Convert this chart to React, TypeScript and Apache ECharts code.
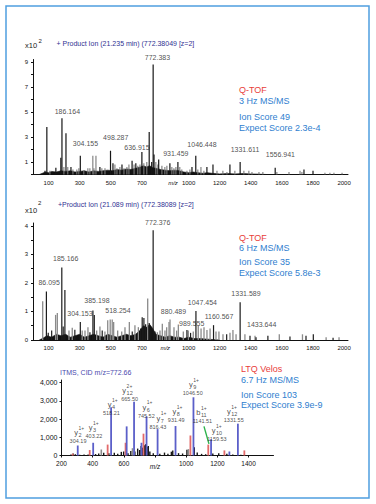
import React, { useEffect, useRef } from "react";
import * as echarts from "echarts";

const FONT = '"Liberation Sans", Arial, Helvetica, sans-serif';

// ---------------- Panel 1 (Q-TOF 3 Hz) : intensity x10^2 ----------------
const p1Black = [
  [77, 0.3], [89, 3.8], [147, 0.55], [179, 1.35], [186.16, 4.5], [212, 3.3], [244, 0.6],
  [304.16, 1.5], [430, 0.6], [498.29, 1.9], [514, 0.9], [572, 0.8], [636.92, 1.1], [661, 0.9],
  [700, 1.8], [747, 3.4], [763, 1.0], [772.38, 8.8], [778, 1.6], [808, 1.2], [880, 0.9],
  [931.46, 1.0], [1022, 0.6], [1046.45, 1.5], [1118, 0.6], [1157, 0.8], [1266, 0.8],
  [1331.61, 1.0], [1556.94, 0.55], [1742, 0.4], [1800, 0.3],
];
const p1Gray = [
  [109, 0.3], [199, 0.6], [224, 0.6], [257, 0.4], [282, 0.4], [295, 0.5], [327, 0.3], [353, 0.5],
  [366, 0.5], [385, 1.5], [392, 0.5], [405, 1.5], [443, 0.5], [463, 0.5], [527, 0.8], [540, 0.5],
  [559, 0.6], [585, 0.5], [604, 0.6], [617, 0.8], [650, 0.8], [674, 0.7], [688, 0.8], [713, 0.9],
  [732, 1.0], [790, 1.0], [803, 0.8], [829, 0.7], [848, 0.6], [861, 0.7], [893, 0.6], [906, 0.5],
  [919, 0.6], [944, 0.6], [957, 0.4], [990, 0.3], [1009, 0.4], [1060, 0.4], [1080, 0.6],
  [1099, 0.3], [1183, 0.3], [1221, 0.3], [1247, 0.2], [1298, 0.3], [1356, 0.3], [1388, 0.3],
  [1408, 0.2], [1453, 0.2], [1478, 0.2], [1568, 0.2], [1646, 0.2], [1717, 0.3], [1729, 0.2],
  [1877, 0.15], [1909, 0.15], [1935, 0.15], [1987, 0.15],
];
const p1Floor = [
  [40, 0], [60, 0.1], [80, 0.2], [100, 0.15], [120, 0.25], [150, 0.2], [180, 0.3], [210, 0.25],
  [240, 0.3], [270, 0.2], [300, 0.25], [330, 0.3], [360, 0.2], [390, 0.3], [420, 0.25], [450, 0.3],
  [480, 0.35], [510, 0.3], [540, 0.4], [570, 0.35], [600, 0.45], [630, 0.4], [660, 0.5], [690, 0.6],
  [710, 0.7], [730, 0.6], [750, 0.7], [770, 0.55], [790, 0.5], [820, 0.4], [850, 0.35], [880, 0.3],
  [910, 0.35], [940, 0.3], [970, 0.2], [1000, 0.15], [1030, 0.2], [1060, 0.15], [1090, 0.1],
  [1120, 0.15], [1150, 0.1], [1200, 0.05], [1250, 0.08], [1300, 0.05], [1350, 0.08], [1400, 0.05],
  [1450, 0.03], [1500, 0],
];
const p1LabelText = ["772.383", "186.164", "304.155", "498.287", "636.915", "931.459", "1046.448", "1331.611", "1556.941"];
const p1LabelMz = [800, 221, 337, 532, 668, 918, 1086, 1363, 1590];
const p1LabelInt = [9.34, 5.06, 2.5, 2.98, 2.16, 1.66, 2.38, 2.0, 1.58];
const p1YTicks = [0, 1, 2, 3, 4, 5, 6, 7, 8, 9];
const p1YLabels = [1, 3, 5, 7, 9];
const p1XLabels = [100, 300, 500, 700, 900, 1000, 1200, 1400, 1600, 1800, 2000];

// ---------------- Panel 2 (Q-TOF 6 Hz) : intensity x10^2 ----------------
const p2Black = [
  [86.1, 1.7], [98, 0.25], [120, 0.33], [185.17, 2.54], [194, 0.47], [205, 1.75], [269, 0.36],
  [304.15, 0.63], [366, 0.27], [385.2, 1.03], [394, 0.88], [445, 0.33], [638, 0.3], [692, 0.4],
  [702, 0.8], [713, 0.77], [724, 0.55], [747, 0.6], [758, 0.35], [772.38, 3.85], [784, 0.3],
  [989.56, 0.35], [1013, 0.25], [1047.45, 1.02], [1160.57, 0.52], [1245, 0.2], [1331.59, 1.32],
  [1395, 0.15], [1433.64, 0.1], [1510, 0.15], [1652, 0.12], [1755, 0.15], [1802, 0.2], [1929, 0.08],
];
const p2Gray = [
  [62, 1.36], [145, 0.88], [156, 0.95], [231, 0.33], [252, 0.43], [316, 0.33], [334, 0.33],
  [353, 0.45], [409, 0.33], [430, 0.47], [462, 0.3], [480, 0.69], [496, 0.72], [509, 0.72],
  [518.25, 0.63], [544, 0.33], [570, 0.3], [591, 0.45], [619, 0.63], [655, 0.52], [677, 0.45],
  [737, 1.45], [799, 0.27], [816, 0.33], [831, 0.57], [848, 0.33], [859, 0.45], [874, 0.63],
  [880.49, 0.72], [906, 0.45], [923, 0.33], [934, 0.54], [966, 0.3], [998, 0.33], [1030, 0.3],
  [1062, 0.5], [1080, 0.4], [1099, 0.45], [1118, 0.35], [1138, 0.4], [1176, 0.3], [1195, 0.3],
  [1221, 0.2], [1266, 0.25], [1285, 0.35], [1305, 0.2], [1362, 0.2], [1427, 0.15], [1583, 0.2],
  [1732, 0.2], [1884, 0.1], [1967, 0.1],
];
const p2Floor = [
  [40, 0], [60, 0.05], [90, 0.15], [120, 0.1], [150, 0.2], [180, 0.15], [210, 0.2], [240, 0.1],
  [270, 0.15], [300, 0.2], [330, 0.1], [360, 0.15], [390, 0.2], [420, 0.15], [450, 0.1], [480, 0.2],
  [510, 0.15], [540, 0.1], [570, 0.15], [600, 0.2], [630, 0.15], [660, 0.2], [690, 0.35], [710, 0.5],
  [730, 0.45], [750, 0.55], [770, 0.4], [790, 0.2], [820, 0.15], [850, 0.1], [880, 0.15], [910, 0.1],
  [940, 0.1], [970, 0.05], [1000, 0.1], [1040, 0.05], [1080, 0.05], [1120, 0.03], [1200, 0],
];
const p2LabelText = ["772.376", "185.166", "86.095", "385.198", "304.153", "518.254", "880.489", "989.555", "1047.454", "1160.567", "1331.589", "1433.644"];
const p2LabelMz = [802, 210, 104, 411, 302, 546, 903, 1020, 1089, 1196, 1369, 1470];
const p2LabelInt = [4.13, 2.84, 2.01, 1.37, 0.92, 1.05, 0.99, 0.59, 1.32, 0.84, 1.64, 0.56];
const p2YTicks = [0, 0.5, 1, 1.5, 2, 2.5, 3, 3.5, 4];
const p2YLabels = [0, 1, 2, 3, 4];
const p2XLabels = [100, 300, 500, 700, 850, 1000, 1200, 1400, 1600, 1800, 2000];

// ---------------- Panel 3 (LTQ Velos) ----------------
const p3Blue = [
  [304.19, 550], [403.22, 700], [518.21, 2650], [618, 1600], [665.5, 2950], [713, 700],
  [745.52, 2150], [816.43, 1450], [931.49, 1620], [1046.5, 3200], [1159.53, 900], [1277, 220],
  [1331.55, 1750],
];
const p3Red = [
  [272, 100], [381, 300], [496, 600], [611, 700], [726, 1200], [1027, 1100], [1141.51, 600],
  [1245, 280], [1373, 280],
];
const p3Gray = [[456, 330], [656, 400], [1015, 350]];
const p3Black = [
  [262, 60], [276, 110], [290, 70], [318, 40], [346, 60], [372, 50], [420, 80], [440, 110],
  [472, 150], [505, 120], [540, 150], [562, 90], [585, 200], [600, 220], [628, 130], [646, 250],
  [672, 220], [690, 380], [703, 300], [712, 520], [722, 430], [733, 560], [741, 620], [750, 480],
  [758, 520], [768, 220], [790, 130], [832, 90], [862, 160], [884, 100], [906, 210], [915, 280],
  [952, 130], [978, 110], [1006, 310], [1053, 460], [1072, 160], [1100, 90], [1126, 70],
  [1172, 110], [1210, 130], [1262, 90], [1300, 60], [1352, 40], [1386, 30],
];
const p3Leader = [[1114, 1600], [1146, 640]];
const ionType = ["y", "y", "y", "y", "y", "y", "y", "y", "b", "y", "y"];
const ionIndex = ["2", "3", "4", "12", "6", "7", "8", "9", "11", "10", "12"];
const ionCharge = ["1+", "1+", "1+", "2+", "1+", "1+", "1+", "1+", "1+", "1+", "1+"];
const ionMzText = ["304.19", "403.22", "518.21", "665.50", "745.52", "816.43", "931.49", "1046.50", "1141.51", "1159.53", "1331.55"];
const ionLabelMz = [306, 408, 520, 637, 744, 818, 936, 1042, 1104, 1197, 1305];
const ionLabelInt = [780, 1055, 2320, 3090, 2190, 1580, 1940, 3420, 1890, 890, 1940];
const p3YTicks = [0, 1000, 2000, 3000, 4000];
const p3XLabels = [200, 400, 600, 800, 1000, 1200, 1400];

// layout: horizontal shift (px) of each ion name relative to its m/z text
const ionNameDx = [0, -1.5, 0, -3.5, 0, 2.5, 0, 0, -2, -1.5, -3];

// ---------------- helpers ----------------
const bars = (i: number, data: number[][], color: string, w: number, z = 2) => ({
  type: "bar", xAxisIndex: i, yAxisIndex: i, data, barWidth: w, barGap: "-100%",
  itemStyle: { color }, silent: true, z,
});
const floor = (i: number, data: number[][]) => ({
  type: "line", xAxisIndex: i, yAxisIndex: i, data, symbol: "none", silent: true, z: 1,
  lineStyle: { width: 0.6, color: "#111" }, areaStyle: { color: "#111", opacity: 1 },
});
const labels = (i: number, mz: number[], it: number[], texts: string[], size: number, color: string,
  itemLabel?: (k: number) => any, base: any = {}) => ({
  type: "scatter", xAxisIndex: i, yAxisIndex: i, clip: false, silent: true, symbolSize: 1,
  itemStyle: { color: "rgba(0,0,0,0)" }, z: 10,
  data: mz.map((m, k) => ({ value: [m, it[k]], label: { formatter: texts[k], ...(itemLabel ? itemLabel(k) : {}) } })),
  label: { show: true, position: "inside", fontSize: size, color, fontFamily: FONT, align: "center", verticalAlign: "middle", ...base },
});
const txt = (x: number, y: number, text: string, size: number, color: string, extra: any = {}) => ({
  type: "text", x, y, silent: true, z: 20,
  style: { text, fill: color, fontSize: size, fontFamily: FONT, align: "left", verticalAlign: "middle", ...extra },
});

const axisLineStyle = { color: "#111", width: 1 };

function msXAxis(gi: number, customs: number[], mzAt: number) {
  return {
    type: "value", gridIndex: gi, min: 0, max: 2025,
    axisLine: { lineStyle: axisLineStyle }, axisTick: { show: false }, splitLine: { show: false },
    axisLabel: {
      customValues: customs, fontSize: 6, margin: 5, color: "#111", fontFamily: FONT,
      formatter: (v: number) => (v === mzAt ? "{i|m/z}" : String(v)),
      rich: { i: { fontStyle: "italic", fontSize: 6, fontFamily: FONT, color: "#111" } },
    },
  };
}
function yAxis(gi: number, max: number, ticks: number[], labs: number[], size: number, margin: number) {
  return {
    type: "value", gridIndex: gi, min: 0, max,
    axisLine: { show: true, lineStyle: axisLineStyle }, splitLine: { show: false },
    axisTick: { show: true, length: 2, customValues: ticks, lineStyle: axisLineStyle },
    axisLabel: { customValues: labs, fontSize: size, margin, color: "#111", fontFamily: FONT },
  };
}

function buildOption() {
  const NAVY = "#2f3192";
  const RED = "#e8403a";
  const BLUE = "#2f80cf";
  return {
    animation: false,
    backgroundColor: "#ffffff",
    grid: [
      { left: 33, top: 59.5, width: 315, height: 115 },
      { left: 33, top: 223, width: 315, height: 117 },
      { left: 61.5, top: 380, width: 212, height: 75.5 },
    ],
    xAxis: [
      msXAxis(0, p1XLabels, 900),
      msXAxis(1, p2XLabels, 850),
      {
        type: "value", gridIndex: 2, min: 200, max: 1560,
        axisLine: { lineStyle: axisLineStyle }, splitLine: { show: false },
        axisTick: { show: true, length: 2, customValues: [200, 400, 600, 800, 1000, 1200, 1400], lineStyle: axisLineStyle },
        axisLabel: {
          customValues: p3XLabels, fontSize: 6.5, margin: 4, color: "#111", fontFamily: FONT,
          formatter: (v: number) => (v === 800 ? "{i|m/z}" : String(v)),
          rich: { i: { fontStyle: "italic", fontSize: 6.5, fontFamily: FONT, color: "#111", padding: [3, 0, 0, 0] } },
        },
      },
    ],
    yAxis: [
      yAxis(0, 9.2, p1YTicks, p1YLabels, 6, 5),
      yAxis(1, 4.1, p2YTicks, p2YLabels, 6, 5),
      yAxis(2, 4150, p3YTicks, p3YTicks, 7, 4),
    ],
    series: [
      floor(0, p1Floor),
      bars(0, p1Gray, "#7a7a7a", 1.1),
      bars(0, p1Black, "#161616", 1.2, 3),
      labels(0, p1LabelMz, p1LabelInt, p1LabelText, 7, "#222"),

      floor(1, p2Floor),
      bars(1, p2Gray, "#8a8a8a", 1.3),
      bars(1, p2Black, "#1c1c1c", 1.2, 3),
      labels(1, p2LabelMz, p2LabelInt, p2LabelText, 7, "#222"),

      bars(2, p3Black, "#141414", 1.4),
      bars(2, p3Gray, "#8c8c8c", 1.6),
      bars(2, p3Red, "#e36a6a", 1.8, 3),
      bars(2, p3Blue, "#5b5fc9", 1.8, 4),
      {
        type: "line", xAxisIndex: 2, yAxisIndex: 2, data: p3Leader, symbol: "none", silent: true, z: 5,
        lineStyle: { color: "#2db34c", width: 1.4 },
      },
      labels(2, ionLabelMz, ionLabelInt, ionMzText, 5.5, "#222"),
      labels(2, ionLabelMz, ionLabelInt, ionType, 7.5, "#222",
        (k) => ({ offset: [ionNameDx[k], -8.5] }), { align: "right" }),
      labels(2, ionLabelMz, ionLabelInt, ionIndex, 5.5, "#222",
        (k) => ({ offset: [ionNameDx[k] + 0.5, -6] }), { align: "left" }),
      labels(2, ionLabelMz, ionLabelInt, ionCharge, 5, "#222",
        (k) => ({ offset: [ionNameDx[k] + 0.5, -13.5] }), { align: "left" }),
    ],
    graphic: [
      { type: "rect", silent: true, z: 0, shape: { x: 6, y: 6, width: 363, height: 492 },
        style: { fill: "none", stroke: "#4f9fe0", lineWidth: 1.5 } },
      // panel 1 header
      txt(25, 45, "x10", 7.5, "#222"),
      txt(38.5, 40.5, "2", 6, "#222"),
      txt(56.5, 43.5, "+ Product Ion (21.235 min) (772.38049 [z=2]", 7, NAVY),
      txt(239, 90, "Q-TOF", 9, RED),
      txt(239, 100.5, "3 Hz MS/MS", 9, BLUE),
      txt(239, 117, "Ion Score 49", 9, BLUE),
      txt(239, 127.5, "Expect Score 2.3e-4", 9, BLUE),
      // panel 2 header
      txt(25, 210, "x10", 7.5, "#222"),
      txt(38, 203, "2", 6, "#222"),
      txt(58, 204, "+Product Ion (21.089 min) (772.38089 [z=2]", 7, NAVY),
      txt(239, 237.7, "Q-TOF", 9, RED),
      txt(239, 248.3, "6 Hz MS/MS", 9, BLUE),
      txt(239, 261.7, "Ion Score 35", 9, BLUE),
      txt(239, 273.3, "Expect Score 5.8e-3", 9, BLUE),
      // panel 3 header
      txt(60, 372, "ITMS, CID m/z=772.66", 7, "#4a4aae"),
      txt(241, 369.3, "LTQ Velos", 9, RED),
      txt(241, 380, "6.7 Hz MS/MS", 9, BLUE),
      txt(241, 394.7, "Ion Score 103", 9, BLUE),
      txt(241, 405, "Expect Score 3.9e-9", 9, BLUE),
    ],
  };
}

export default function App() {
  const ref = useRef<HTMLDivElement>(null);
  useEffect(() => {
    const chart = echarts.init(ref.current as HTMLDivElement, null, { renderer: "svg" });
    chart.setOption(buildOption() as any);
    return () => chart.dispose();
  }, []);
  return (
    <div
      ref={ref}
      style={{ position: "absolute", left: 0, top: 0, width: 376, height: 504, background: "#fff" }}
    />
  );
}
